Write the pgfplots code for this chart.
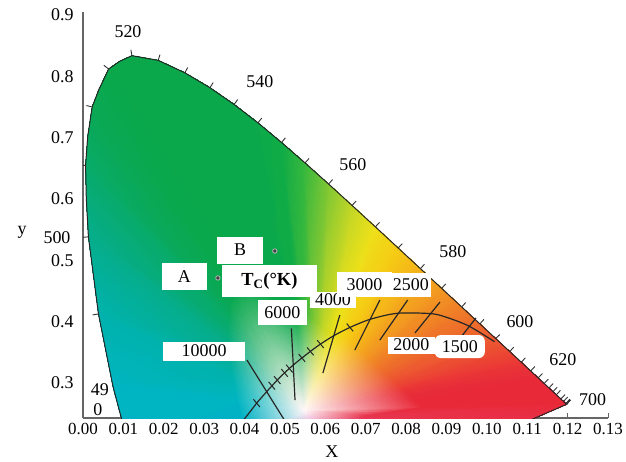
\documentclass[border=0pt]{standalone}
\usepackage{fontspec}
\setmainfont{Liberation Serif}
\usepackage{pgfplots}
\pgfplotsset{compat=1.18}
\begin{document}
\begin{tikzpicture}
\begin{axis}[
  name=ax,
  scale only axis, width=525bp, height=406bp,
  xmin=0, xmax=0.13, ymin=0.243, ymax=0.905,
  axis x line=bottom, axis y line=left,
  axis line style={-, draw=gray!80!black, line width=1.1pt},
  xtick={0,0.01,0.02,0.03,0.04,0.05,0.06,0.07,0.08,0.09,0.10,0.11,0.12,0.13},
  xticklabels={0.00,0.01,0.02,0.03,0.04,0.05,0.06,0.07,0.08,0.09,0.10,0.11,0.12,0.13},
  ytick={0.3,0.4,0.5,0.6,0.7,0.8,0.9},
  yticklabels={0.3,0.4,0.5,0.6,0.7,0.8,0.9},
  tick align=inside, major tick length=5bp,
  x tick style={draw=gray!80!black, line width=0.8pt},
  y tick style={draw=none},
  xticklabel style={font=\fontsize{17}{19}\selectfont, yshift=-2bp},
  yticklabel style={font=\fontsize{18}{20}\selectfont, xshift=-6bp},
  clip mode=individual,
  unbounded coords=jump,
]
% ---- colour fill of the horseshoe (triangle mesh, explicit vertex colours)
\addplot[patch, shader=interp, mesh/color input=explicit, table/row sep=\\,
  patch table={
0 38 39\\ 38 39 1\\ 39 2 1\\
0 39 40\\ 39 40 2\\ 40 3 2\\
0 40 41\\ 40 41 3\\ 41 4 3\\
0 41 42\\ 41 42 4\\ 42 5 4\\
0 42 43\\ 42 43 5\\ 43 6 5\\
0 43 44\\ 43 44 6\\ 44 7 6\\
0 44 45\\ 44 45 7\\ 45 8 7\\
0 45 46\\ 45 46 8\\ 46 9 8\\
0 46 47\\ 46 47 9\\ 47 10 9\\
0 47 48\\ 47 48 10\\ 48 11 10\\
0 48 49\\ 48 49 11\\ 49 12 11\\
0 49 50\\ 49 50 12\\ 50 13 12\\
0 50 51\\ 50 51 13\\ 51 14 13\\
0 51 52\\ 51 52 14\\ 52 15 14\\
0 52 53\\ 52 53 15\\ 53 16 15\\
0 53 54\\ 53 54 16\\ 54 17 16\\
0 54 55\\ 54 55 17\\ 55 18 17\\
0 55 56\\ 55 56 18\\ 56 19 18\\
0 56 57\\ 56 57 19\\ 57 20 19\\
0 57 58\\ 57 58 20\\ 58 21 20\\
0 58 59\\ 58 59 21\\ 59 22 21\\
0 59 60\\ 59 60 22\\ 60 23 22\\
0 60 61\\ 60 61 23\\ 61 24 23\\
0 61 62\\ 61 62 24\\ 62 25 24\\
0 62 63\\ 62 63 25\\ 63 26 25\\
0 63 64\\ 63 64 26\\ 64 27 26\\
0 64 65\\ 64 65 27\\ 65 28 27\\
0 65 66\\ 65 66 28\\ 66 29 28\\
0 66 67\\ 66 67 29\\ 67 30 29\\
0 67 68\\ 67 68 30\\ 68 31 30\\
0 68 69\\ 68 69 31\\ 69 32 31\\
0 69 70\\ 69 70 32\\ 70 33 32\\
0 70 71\\ 70 71 33\\ 71 34 33\\
0 71 72\\ 71 72 34\\ 72 35 34\\
0 72 73\\ 72 73 35\\ 73 36 35\\
0 73 74\\ 73 74 36\\ 74 37 36\\
0 74 38\\ 74 38 37\\ 38 1 37\\
6 7 75\\ 7 8 76\\ 8 9 77\\ 9 10 78\\
  }] table[meta=c] {
x y c\\
0.0550 0.2550 rgb=1,0.97,0.97\\
0.0179 0.0868 rgb=0,0.58,0.80\\
0.0149 0.1327 rgb=0,0.64,0.78\\
0.0112 0.2007 rgb=0,0.69,0.77\\
0.0074 0.2950 rgb=0,0.71,0.76\\
0.00383 0.4127 rgb=0,0.70,0.68\\
0.00134 0.5384 rgb=0.02,0.68,0.55\\
0.00064 0.6548 rgb=0.03,0.67,0.42\\
0.00227 0.7502 rgb=0.04,0.66,0.33\\
0.00634 0.8120 rgb=0.04,0.66,0.30\\
0.01211 0.8338 rgb=0.04,0.66,0.29\\
0.01861 0.8262 rgb=0.04,0.66,0.29\\
0.02522 0.8059 rgb=0.04,0.66,0.29\\
0.03144 0.7816 rgb=0.04,0.66,0.29\\
0.03742 0.7543 rgb=0.04,0.66,0.29\\
0.04333 0.7243 rgb=0.04,0.66,0.29\\
0.04916 0.6923 rgb=0.06,0.67,0.28\\
0.05498 0.6589 rgb=0.22,0.72,0.24\\
0.06082 0.6245 rgb=0.50,0.78,0.20\\
0.06662 0.5896 rgb=0.76,0.84,0.15\\
0.07239 0.5547 rgb=0.93,0.88,0.10\\
0.07804 0.5202 rgb=0.96,0.80,0.08\\
0.08354 0.4866 rgb=0.96,0.70,0.10\\
0.08880 0.4544 rgb=0.95,0.60,0.13\\
0.09376 0.4242 rgb=0.94,0.50,0.15\\
0.09827 0.3965 rgb=0.93,0.42,0.17\\
0.10220 0.3725 rgb=0.93,0.35,0.19\\
0.10566 0.3514 rgb=0.92,0.28,0.20\\
0.10853 0.3340 rgb=0.92,0.22,0.21\\
0.11086 0.3197 rgb=0.91,0.19,0.22\\
0.11271 0.3083 rgb=0.91,0.17,0.22\\
0.11539 0.2920 rgb=0.91,0.16,0.22\\
0.11720 0.2809 rgb=0.91,0.16,0.22\\
0.11899 0.2700 rgb=0.91,0.16,0.22\\
0.11976 0.2653 rgb=0.91,0.16,0.22\\
0.1060 0.2260 rgb=0.91,0.20,0.30\\
0.0897 0.1795 rgb=0.90,0.30,0.45\\
0.0652 0.1086 rgb=0.80,0.35,0.70\\
0.0420 0.1961 rgb=0,0.58,0.80\\
0.0410 0.2122 rgb=0,0.64,0.78\\
0.0397 0.2360 rgb=0,0.69,0.77\\
0.0383 0.2690 rgb=0,0.71,0.76\\
0.0371 0.3102 rgb=0,0.70,0.68\\
0.0362 0.3542 rgb=0.02,0.68,0.55\\
0.0360 0.3949 rgb=0.03,0.67,0.42\\
0.0365 0.4283 rgb=0.04,0.66,0.33\\
0.0380 0.4500 rgb=0.04,0.66,0.30\\
0.0400 0.4576 rgb=0.04,0.66,0.29\\
0.0423 0.4549 rgb=0.04,0.66,0.29\\
0.0446 0.4478 rgb=0.04,0.66,0.29\\
0.0468 0.4393 rgb=0.04,0.66,0.29\\
0.0489 0.4298 rgb=0.04,0.66,0.29\\
0.0509 0.4193 rgb=0.04,0.66,0.29\\
0.0530 0.4081 rgb=0.06,0.67,0.28\\
0.0550 0.4166 rgb=0.22,0.72,0.24\\
0.0573 0.4028 rgb=0.50,0.78,0.20\\
0.0596 0.3888 rgb=0.76,0.84,0.15\\
0.0620 0.3749 rgb=0.93,0.88,0.10\\
0.0654 0.3743 rgb=0.96,0.80,0.08\\
0.0678 0.3592 rgb=0.96,0.70,0.10\\
0.0702 0.3447 rgb=0.95,0.60,0.13\\
0.0724 0.3311 rgb=0.94,0.50,0.15\\
0.0745 0.3187 rgb=0.93,0.42,0.17\\
0.0762 0.3079 rgb=0.93,0.35,0.19\\
0.0778 0.2984 rgb=0.92,0.28,0.20\\
0.0791 0.2906 rgb=0.92,0.22,0.21\\
0.0801 0.2841 rgb=0.91,0.19,0.22\\
0.0810 0.2790 rgb=0.91,0.17,0.22\\
0.0822 0.2717 rgb=0.91,0.16,0.22\\
0.0830 0.2667 rgb=0.91,0.16,0.22\\
0.0838 0.2618 rgb=0.91,0.16,0.22\\
0.0841 0.2596 rgb=0.91,0.16,0.22\\
0.0703 0.2463 rgb=0.91,0.20,0.30\\
0.0654 0.2324 rgb=0.90,0.30,0.45\\
0.0581 0.2111 rgb=0.80,0.35,0.70\\
0.00082 0.6000 rgb=0.02,0.68,0.48\\
0.00117 0.7020 rgb=0.04,0.66,0.36\\
0.00390 0.7780 rgb=0.04,0.66,0.31\\
0.00908 0.8246 rgb=0.04,0.66,0.29\\
};
% ---- spectral locus outline
\addplot[black!85, line width=1pt] table {
x y
0.0149 0.1327
0.0112 0.2007
0.0074 0.2950
0.00383 0.4127
0.00134 0.5384
0.00082 0.6000
0.00064 0.6548
0.00117 0.7020
0.00227 0.7502
0.00390 0.7780
0.00634 0.8120
0.00908 0.8246
0.01211 0.8338
0.01861 0.8262
0.02522 0.8059
0.03144 0.7816
0.03742 0.7543
0.04333 0.7243
0.04916 0.6923
0.05498 0.6589
0.06082 0.6245
0.06662 0.5896
0.07239 0.5547
0.07804 0.5202
0.08354 0.4866
0.08880 0.4544
0.09376 0.4242
0.09827 0.3965
0.10220 0.3725
0.10566 0.3514
0.10853 0.3340
0.11086 0.3197
0.11271 0.3083
0.11539 0.2920
0.11720 0.2809
0.11899 0.2700
0.11976 0.2653
0.1060 0.2260
};
% ---- wavelength ticks on the locus (every 5 nm)
\addplot[black!80, line width=0.9pt] table {
x y
0.00383 0.4127
0.00238 0.4111
nan nan
0.00134 0.5384
-0.00015 0.5375
nan nan
0.00064 0.6548
-0.00084 0.6551
nan nan
0.00227 0.7502
0.00084 0.7525
nan nan
0.00634 0.8120
0.00517 0.8181
nan nan
0.01211 0.8338
0.01186 0.8434
nan nan
0.01861 0.8262
0.01906 0.8354
nan nan
0.02522 0.8059
0.02592 0.8145
nan nan
0.03144 0.7816
0.03223 0.7899
nan nan
0.03742 0.7543
0.03829 0.7622
nan nan
0.04333 0.7243
0.04426 0.7320
nan nan
0.04916 0.6923
0.05012 0.6998
nan nan
0.05498 0.6589
0.05597 0.6662
nan nan
0.06082 0.6245
0.06181 0.6318
nan nan
0.06662 0.5896
0.06762 0.5967
nan nan
0.07239 0.5547
0.07342 0.5618
nan nan
0.07804 0.5202
0.07906 0.5272
nan nan
0.08354 0.4866
0.08455 0.4936
nan nan
0.08880 0.4544
0.08983 0.4617
nan nan
0.09376 0.4242
0.09478 0.4313
nan nan
0.09827 0.3965
0.09928 0.4038
nan nan
0.10220 0.3725
0.10322 0.3791
nan nan
0.10566 0.3514
0.10668 0.3586
nan nan
0.10853 0.3340
0.10955 0.3411
nan nan
0.11086 0.3197
0.11188 0.3269
nan nan
0.11271 0.3083
0.11374 0.3155
nan nan
0.11420 0.2993
0.11522 0.3065
nan nan
0.11539 0.2920
0.11641 0.2992
nan nan
0.11638 0.2859
0.11740 0.2931
nan nan
0.11720 0.2809
0.11822 0.2881
nan nan
0.11834 0.2740
0.11936 0.2812
nan nan
0.11899 0.2700
0.12000 0.2772
nan nan
0.11954 0.2666
0.12054 0.2737
nan nan
0.11976 0.2653
0.12077 0.2724
};
% ---- Planckian locus
\addplot[black!85, line width=1.2pt, smooth] table {
x y
0.0391 0.2342
0.0418 0.2569
0.0430 0.2673
0.0458 0.2883
0.0481 0.3048
0.0499 0.3166
0.0525 0.3318
0.0563 0.3516
0.0588 0.3635
0.0620 0.3768
0.0661 0.3907
0.0712 0.4041
0.0778 0.4137
0.0859 0.4133
0.0896 0.4081
0.0955 0.3931
0.1019 0.3674
};
% ---- isotemperature lines
\addplot[black!85, line width=1.2pt] table {
x y
0.0406 0.3375
0.0505 0.2330
nan nan
0.0516 0.3892
0.0525 0.2723
nan nan
0.0636 0.4109
0.0594 0.3163
nan nan
0.0735 0.4354
0.0673 0.3538
nan nan
0.0804 0.4354
0.0735 0.3701
nan nan
0.0884 0.4321
0.0822 0.3816
nan nan
0.0973 0.4060
0.0938 0.3767
};
% ---- small temperature ticks on the Planckian locus
\addplot[black!85, line width=1pt] table {
x y
0.0422 0.2736
0.0438 0.2610
nan nan
0.04596 0.3019
0.04756 0.2893
nan nan
0.0473 0.3111
0.0489 0.2985
nan nan
0.0491 0.3229
0.0507 0.3103
nan nan
0.0503 0.3299
0.0519 0.3173
nan nan
0.0534 0.3473
0.0550 0.3347
nan nan
0.0555 0.3579
0.0571 0.3453
nan nan
0.0580 0.3698
0.0596 0.3572
nan nan
0.0653 0.3970
0.0669 0.3844
};
% ---- label boxes
\tikzset{lbl/.style={fill=white, inner sep=0pt, font=\fontsize{18}{20}\selectfont}}
\node[lbl, minimum width=46bp, minimum height=27bp] at (axis cs:0.0389,0.5168) {B};
\node[lbl, minimum width=45bp, minimum height=27bp] at (axis cs:0.02512,0.4737) {A};
\node[lbl, minimum width=95bp, minimum height=32bp, font=\bfseries\fontsize{18.5}{20}\selectfont] at (axis cs:0.04616,0.4664) {T\textsubscript{C}(°K)};
\node[lbl, minimum width=49bp, minimum height=25bp] at (axis cs:0.04938,0.4150) {6000};
\node[lbl, minimum width=46bp, minimum height=16bp] at (axis cs:0.0619,0.4354) {4000};
\node[lbl, minimum width=55bp, minimum height=25bp] at (axis cs:0.0697,0.4607) {3000};
\node[lbl, minimum width=40bp, minimum height=24bp] at (axis cs:0.0812,0.4599) {2500};
\node[lbl, minimum width=47bp, minimum height=17bp] at (axis cs:0.0813,0.3620) {2000};
\node[lbl, minimum width=50bp, minimum height=23bp, rounded corners=6bp] at (axis cs:0.0933,0.3595) {1500};
\node[lbl, minimum width=82bp, minimum height=19bp] at (axis cs:0.0300,0.3522) {10000};
% ---- points A and B
\addplot[only marks, mark=*, mark size=2.2bp, mark options={fill=black!75, draw=gray!55, line width=0.8pt}] coordinates {(0.0334,0.4713) (0.0475,0.5153)};
% ---- wavelength labels
\tikzset{wl/.style={inner sep=0pt, font=\fontsize{18}{20}\selectfont}}
\node[wl] at (axis cs:0.01114,0.8726) {520};
\node[wl] at (axis cs:0.0438,0.7910) {540};
\node[wl] at (axis cs:0.0668,0.6556) {560};
\node[wl] at (axis cs:0.0916,0.5137) {580};
\node[wl] at (axis cs:0.1082,0.3995) {600};
\node[wl] at (axis cs:0.1188,0.3375) {620};
\node[wl] at (axis cs:0.1262,0.2723) {700};
\node[wl] at (axis cs:-0.00644,0.5365) {500};
\node[wl] at (axis cs:0.0042,0.2886) {49};
\node[wl] at (axis cs:0.0037,0.2560) {0};
% ---- axis titles
\node[wl] at (axis cs:0.0616,0.243) [yshift=-34bp] {X};
\node[wl] at (axis cs:0,0.545) [xshift=-61bp] {y};
\end{axis}
\pgfresetboundingbox
\path[use as bounding box] ([shift={(-83bp,-43bp)}]ax.south west) rectangle ([shift={(18bp,12bp)}]ax.north east);
\end{tikzpicture}
\end{document}
